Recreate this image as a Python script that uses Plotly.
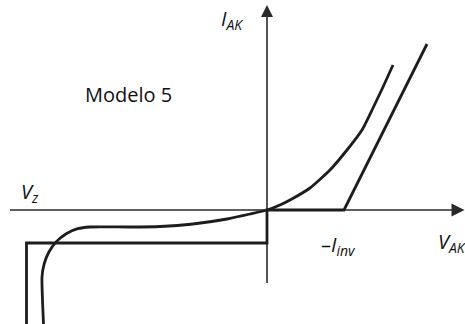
import plotly.graph_objects as go

# Ideal piecewise model (V_AK, I_AK) in arbitrary units
model_v = [-24.05, -24.05, 0.0, 0.0, 7.7, 16.0]
model_i = [-11.4, -3.3, -3.3, 0.0, 0.0, 16.6]

real_v = [-22.35, -22.5, -22.29, -21.81, -21.06, -20.08, -18.93, -17.7, -13.7,
          -10.7, -7.4, -4.0, -1.7, 0.0, 1.3, 2.3, 4.3, 6.3, 8.0, 9.5, 10.6, 11.6, 12.6]
real_i = [-11.4, -6.7, -5.41, -4.2, -3.16, -2.37, -1.87, -1.7, -1.7,
          -1.65, -1.4, -0.9, -0.4, 0.0, 0.5, 1.0, 2.2, 4.0, 6.0, 8.0, 10.2, 12.3, 14.5]

# Axis extents
haxis_v = [-25.7, 19.3]
haxis_i = [0.0, 0.0]
vaxis_v = [0.0, 0.0]
vaxis_i = [-7.3, 19.3]

AX = "#2a2a2a"
CV = "#1e1c1d"
FONT = "Open Sans"

fig = go.Figure()
fig.add_trace(go.Scatter(x=haxis_v, y=haxis_i, mode="lines",
                         line=dict(color=AX, width=1.6), hoverinfo="skip"))
fig.add_trace(go.Scatter(x=vaxis_v, y=vaxis_i, mode="lines",
                         line=dict(color=AX, width=1.6), hoverinfo="skip"))
fig.add_trace(go.Scatter(x=[19.75], y=[0.0], mode="markers", cliponaxis=False,
                         marker=dict(symbol="arrow-right", size=13, color=AX,
                                     line=dict(width=0)), hoverinfo="skip"))
fig.add_trace(go.Scatter(x=[0.0], y=[20.5], mode="markers", cliponaxis=False,
                         marker=dict(symbol="arrow-up", size=12, color=AX,
                                     line=dict(width=0)), hoverinfo="skip"))
fig.add_trace(go.Scatter(x=model_v, y=model_i, mode="lines", cliponaxis=False,
                         line=dict(color=CV, width=2.8), hoverinfo="skip"))
fig.add_trace(go.Scatter(x=real_v, y=real_i, mode="lines", cliponaxis=False,
                         line=dict(color=CV, width=2.8, shape="spline", smoothing=0.5),
                         hoverinfo="skip"))

anns = [
    dict(x=-13.9, y=11.6, text="Modelo 5", xanchor="center", yanchor="middle"),
    dict(x=-4.8, y=19.1, text="<i>I</i><sub><i>AK</i></sub>",
         xanchor="left", yanchor="middle"),
    dict(x=-24.8, y=1.8, text="<i>V</i><sub><i>z</i></sub>",
         xanchor="left", yanchor="middle"),
    dict(x=5.2, y=-3.5, text="–<i>I</i><sub><i>inv</i></sub>",
         xanchor="left", yanchor="middle"),
    dict(x=16.9, y=-3.2, text="<i>V</i><sub><i>AK</i></sub>",
         xanchor="left", yanchor="middle"),
]
for a in anns:
    fig.add_annotation(**a, xref="x", yref="y", showarrow=False,
                       font=dict(family=FONT, size=20, color="#111111"))

fig.update_layout(
    width=465, height=324,
    margin=dict(l=0, r=0, t=0, b=0),
    paper_bgcolor="white", plot_bgcolor="white",
    showlegend=False,
    xaxis=dict(range=[-26.7, 19.8], visible=False, fixedrange=True),
    yaxis=dict(range=[-11.4, 21.0], visible=False, fixedrange=True),
)
fig.write_html("out.html", config={"displayModeBar": False},
               post_script="document.body.style.margin='0';document.body.style.overflow='hidden';")
